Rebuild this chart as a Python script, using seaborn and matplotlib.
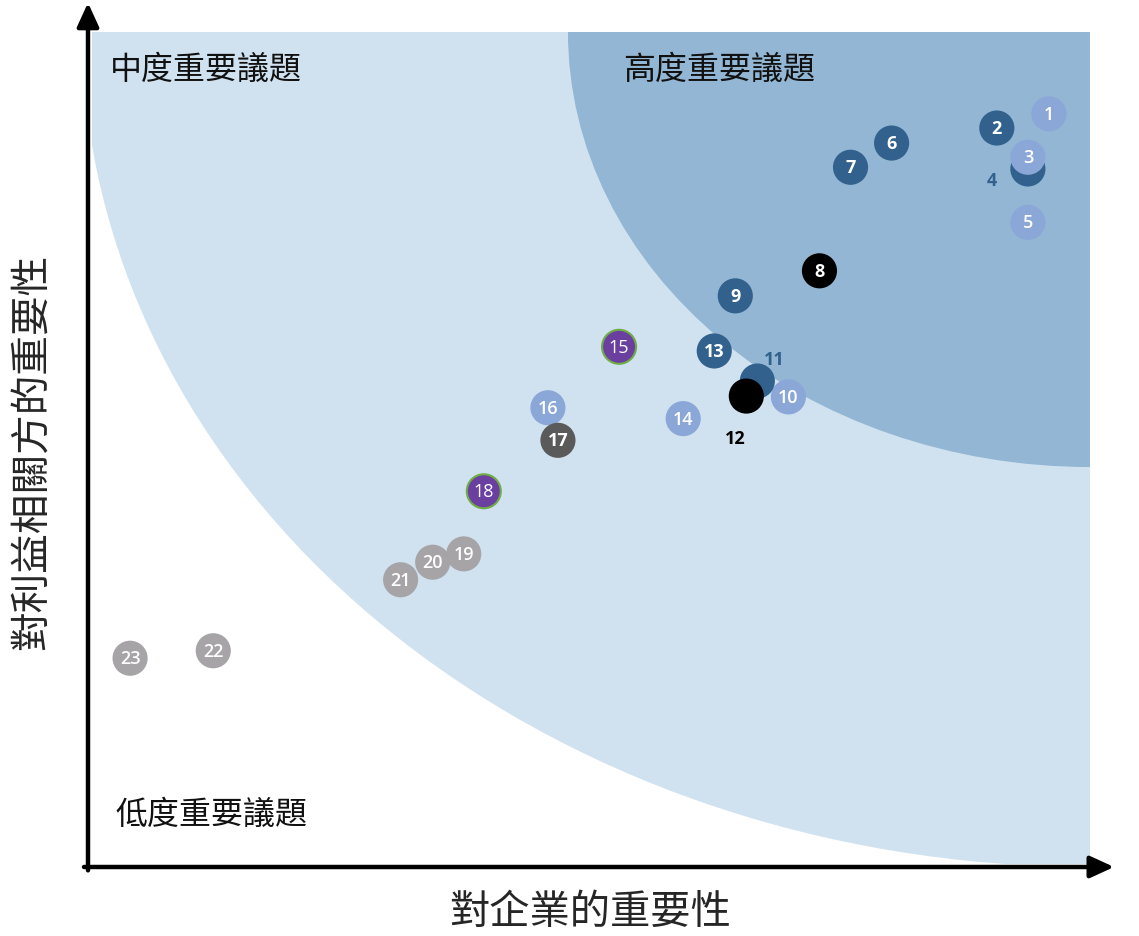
import matplotlib
matplotlib.use("Agg")
import matplotlib.pyplot as plt
import seaborn as sns
import pandas as pd
from matplotlib.patches import Wedge, Rectangle

# 議題編號與座標 (對企業的重要性, 對利益相關方的重要性), 0-100 刻度
issue_ids = [1, 2, 4, 3, 5, 6, 7, 8, 9, 10, 11, 12, 13, 14, 15, 16, 17, 18, 19, 20, 21, 22, 23]
business = [95.9, 90.7, 93.8, 93.8, 93.8, 80.2, 76.1, 73.0, 64.6, 69.9, 66.8, 65.7, 62.5,
            59.4, 53.0, 45.9, 46.9, 39.5, 37.5, 34.4, 31.2, 12.5, 4.2]
stakeholder = [90.2, 88.5, 83.6, 85.0, 77.2, 86.7, 83.8, 71.4, 68.4, 56.3, 58.2, 56.4, 61.8,
               53.7, 62.3, 55.0, 51.1, 45.0, 37.5, 36.5, 34.4, 25.9, 25.0]
group = ["light", "dark", "dark", "light", "light", "dark", "dark", "black", "dark", "light",
         "dark", "black", "dark", "light", "purple", "light", "grey_dark", "purple",
         "grey", "grey", "grey", "grey", "grey"]

zone_labels = ["中度重要議題", "高度重要議題", "低度重要議題"]
x_title = "對企業的重要性"
y_title = "對利益相關方的重要性"

palette = {
    "dark": "#31618C",
    "light": "#8BA7D8",
    "black": "#000000",
    "purple": "#6B3FA0",
    "grey_dark": "#5A5A5A",
    "grey": "#A6A4A7",
}

df = pd.DataFrame({"id": issue_ids, "x": business, "y": stakeholder, "group": group})

sns.set_theme(style="white")
plt.rcParams["font.family"] = ["Noto Sans CJK TC", "DejaVu Sans"]

W, H = 1139, 937
fig = plt.figure(figsize=(W / 100, H / 100), dpi=100)
ax = fig.add_axes([88 / W, (H - 868) / H, (1090 - 88) / W, (868 - 33) / H])
ax.set_xlim(0, 100)
ax.set_ylim(0, 100)
ax.axis("off")

# 背景區塊
clip = Rectangle((0.4, 0.4), 99.6, 99.6, transform=ax.transData)
light = Wedge((100, 100.6), 100.6, 180, 270, facecolor="#D0E2F0", edgecolor="none", zorder=0)
ax.add_patch(light)
light.set_clip_path(clip)
dark = Wedge((100, 100), 52.1, 180, 270, facecolor="#92B6D3", edgecolor="none", zorder=1)
ax.add_patch(dark)

# 散點
main = df[df["group"] != "purple"]
sns.scatterplot(data=main, x="x", y="y", hue="group", palette=palette, s=640,
                linewidth=0, legend=False, ax=ax, zorder=3, clip_on=False)
purple = df[df["group"] == "purple"]
sns.scatterplot(data=purple, x="x", y="y", hue="group", palette=palette, s=600,
                edgecolor="#70AD47", linewidth=1.5, legend=False, ax=ax, zorder=3)

# 編號標籤
special = {4: (-26, -8, "#31618C"), 11: (12, 16, "#31618C"), 12: (-8, -30, "#000000")}
weights = {"dark": "bold", "black": "bold", "grey_dark": "bold", "light": "semibold",
           "purple": "normal", "grey": "semibold"}
for _, r in df.iterrows():
    dx, dy, col = special.get(r["id"], (0, 0, "white"))
    weight = "bold" if r["id"] in special else weights[r["group"]]
    ax.annotate(str(r["id"]), (r["x"], r["y"]), xytext=(dx, dy), textcoords="offset points",
                ha="center", va="center", color=col, fontsize=13, fontweight=weight,
                family=["Open Sans", "DejaVu Sans"], zorder=5)

# 區域文字
ax.text(2.2, 95.6, zone_labels[0], fontsize=23, va="center", ha="left", color="#111111", zorder=4)
ax.text(53.4, 95.6, zone_labels[1], fontsize=23, va="center", ha="left", color="#111111", zorder=4)
ax.text(2.7, 6.3, zone_labels[2], fontsize=23, va="center", ha="left", color="#111111", zorder=4)

# 座標軸箭頭
arrow = dict(arrowstyle="-|>,head_length=1.2,head_width=0.55", color="black", lw=3.2,
             shrinkA=0, shrinkB=0)
ax.annotate("", xy=(0, 1.035), xytext=(0, -0.004), xycoords="axes fraction",
            arrowprops=arrow, annotation_clip=False)
ax.annotate("", xy=(1.024, 0), xytext=(-0.004, 0), xycoords="axes fraction",
            arrowprops=arrow, annotation_clip=False)

fig.text(590 / W, 1 - 912 / H, x_title, fontsize=29, ha="center", va="center")
fig.text(32 / W, 1 - 452 / H, y_title, fontsize=28.5, ha="center", va="center", rotation=90)

fig.savefig("out.png", dpi=100)
plt.close(fig)
